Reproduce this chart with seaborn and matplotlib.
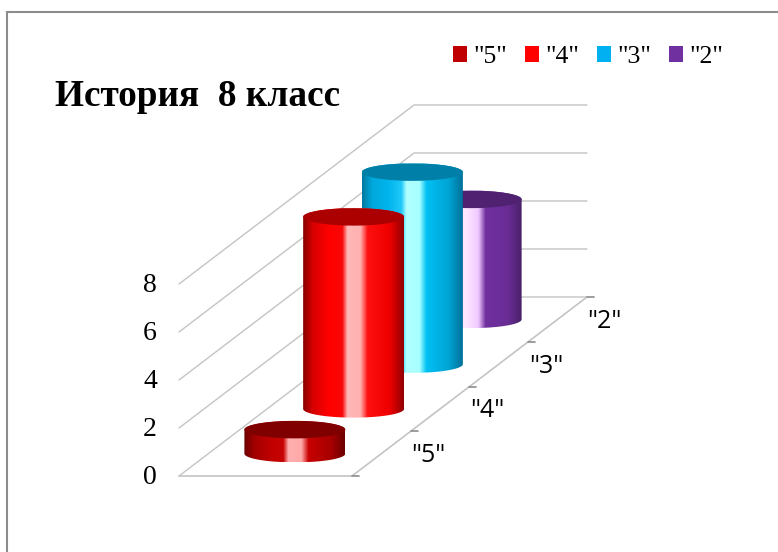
import numpy as np
import matplotlib
matplotlib.use("Agg")
import matplotlib.pyplot as plt
import seaborn as sns
from matplotlib.colors import LinearSegmentedColormap
from matplotlib.path import Path
from matplotlib.patches import Ellipse, Patch
from matplotlib.transforms import Affine2D

sns.set_style("white")
plt.rcParams["font.family"] = ["Liberation Serif", "DejaVu Serif"]

# data
categories = ['"5"', '"4"', '"3"', '"2"']
values = [1, 8, 8, 5]
value_ticks = [0, 2, 4, 6, 8]
title = "История  8 класс"

legend_colors = ["#c00000", "#ff0000", "#00b0f0", "#7030a0"]
top_colors = ["#800000", "#ac0000", "#0080a8", "#4f2170"]
stop_pos = [0, 0.1, 0.26, 0.39, 0.44, 0.57, 0.64, 0.86, 1]
body_stops = [
    ["#6c0000", "#a00000", "#c00000", "#c80404", "#ffb0b0", "#ffa8a8", "#c80000", "#a80000", "#6c0000"],
    ["#8a0000", "#d80000", "#ff0000", "#f80808", "#ffb8b8", "#ffb0b0", "#ff1010", "#ee0000", "#900000"],
    ["#0078a0", "#00a8dc", "#00b4ec", "#20c8f8", "#b0ffff", "#a8ffff", "#00c0f4", "#00a4d4", "#00709a"],
    ["#e8a8f4", "#f0c0fa", "#f8d0ff", "#ffd8ff", "#ffe8ff", "#f0c8ff", "#7030a0", "#6a2d96", "#4a2068"],
]

# chart geometry, pixels of the 778x552 picture
FLOOR_W = 173
CYL_W = 101
ELL_H = 17.5
GRID = "#c4c4c4"
to_px = Affine2D(np.array([[58.75, 0, 179], [-44.75, -24, 476], [0, 0, 1]]))


def project(depth, value, across=0.0):
    x, y = to_px.transform((depth, value))
    return x + across, y


fig = plt.figure(figsize=(7.78, 5.52), dpi=100)
ax = fig.add_axes([0, 0, 1, 1])
ax.set_xlim(0, 778)
ax.set_ylim(552, 0)
ax.axis("off")

# outer frame, cut off by the crop on the right and below
ax.plot([7.5, 7.5, 778], [552, 11.5, 11.5], color="#8c8c8c", lw=1.5, solid_joinstyle="miter")

# walls
n = len(categories)
for v in value_ticks:
    x0, y0 = project(0, v)
    x1, y1 = project(n, v)
    x2, y2 = project(n, v, FLOOR_W)
    ax.plot([x0, x1, x2], [y0, y1, y2], color=GRID, lw=1)
    ax.text(x0 - 22, y0 + 1, str(v), ha="right", va="center", fontsize=20, color="black")

# floor edges and depth ticks
x0, y0 = project(0, 0)
x1, y1 = project(0, 0, FLOOR_W)
x2, y2 = project(n, 0, FLOOR_W)
ax.plot([x0, x1, x2], [y0, y1, y2], color=GRID, lw=1.2)
for d in range(n + 1):
    x, y = project(d, 0, FLOOR_W)
    ax.plot([x, x + 7], [y, y], color="#8c8c8c", lw=1.2)

for i, cat in enumerate(categories):
    x, y = project(i + 0.5, 0, FLOOR_W)
    ax.text(x + 47, y + 2, cat, ha="center", va="center", fontsize=18,
            family=["Open Sans", "DejaVu Sans"], color="black")


def cylinder(depth, value, stops, top_color, z):
    cx, y_base = project(depth, 0, FLOOR_W / 2)
    _, y_top = project(depth, value)
    rx, ry = CYL_W / 2, ELL_H / 2
    t = np.linspace(0, np.pi, 80)
    # lower rim from right to left, then up and over the top rim
    verts = np.vstack([
        np.c_[cx + rx * np.cos(t), y_base + ry * np.sin(t)],
        np.c_[cx - rx * np.cos(t), y_top - ry * np.sin(t)],
    ])
    cmap = LinearSegmentedColormap.from_list("body", list(zip(stop_pos, stops)))
    im = ax.imshow(np.linspace(0, 1, 256)[None, :], cmap=cmap, aspect="auto", zorder=z,
                   extent=(cx - rx, cx + rx, y_base + ry, y_top - ry), interpolation="bilinear")
    im.set_clip_path(Path(np.vstack([verts, verts[0]])), transform=ax.transData)
    ax.add_patch(Ellipse((cx, y_top), CYL_W, ELL_H, fc=top_color, ec="none", zorder=z + 0.5))


# back to front so the nearer cylinders cover the others
for i in reversed(range(n)):
    cylinder(i + 0.5, values[i], body_stops[i], top_colors[i], 3 + n - i)
ax.set_xlim(0, 778)
ax.set_ylim(552, 0)

ax.text(55, 96, title, fontsize=26.8, fontweight="bold", va="center", ha="left", color="black")

handles = [Patch(facecolor=c, edgecolor="none") for c in legend_colors]
ax.legend(handles, categories, ncol=4, frameon=False, fontsize=18.5, loc="upper left",
          labelcolor="black", bbox_to_anchor=(453 / 778, 1 - 46 / 552), handlelength=0.55,
          handleheight=0.55, handletextpad=0.25, columnspacing=0.68, borderpad=0, borderaxespad=0)

fig.savefig("out.png", dpi=100)
